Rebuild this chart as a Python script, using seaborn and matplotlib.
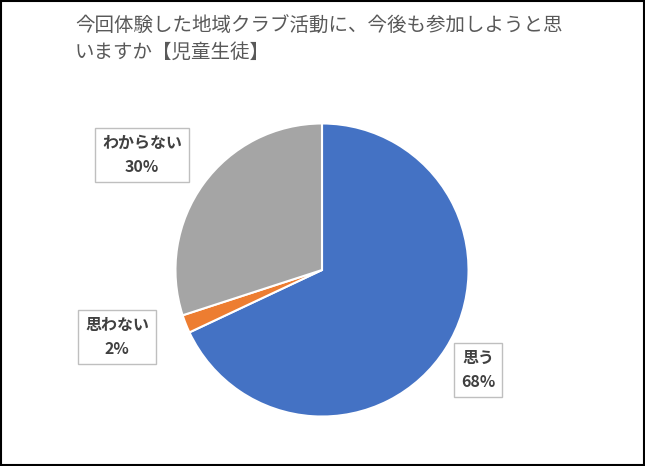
import seaborn as sns
import matplotlib.pyplot as plt
from matplotlib.patches import Rectangle

sns.set_style("white")
plt.rcParams['font.family'] = ['Noto Sans CJK JP', 'DejaVu Sans']

labels = ["思う", "思わない", "わからない"]
values = [68, 2, 30]
colors = ["#4472C4", "#ED7D31", "#A5A5A5"]

fig = plt.figure(figsize=(6.45, 4.66), dpi=100)
fig.patches.append(Rectangle((0.002, 0.002), 0.996, 0.996, transform=fig.transFigure,
                             fill=False, edgecolor="black", linewidth=1.5))

ax = fig.add_axes([(322 - 148) / 645, (196 - 148) / 466, 296 / 645, 296 / 466])
ax.pie(values, colors=colors, startangle=90, counterclock=False,
       wedgeprops=dict(edgecolor="white", linewidth=1.5))
ax.set_xlim(-1.01, 1.01)
ax.set_ylim(-1.01, 1.01)
ax.set_aspect("equal")

fig.text(75 / 645, 1 - 16 / 466, "今回体験した地域クラブ活動に、今後も参加しようと思\nいますか【児童生徒】",
         ha="left", va="top", fontsize=14, color="#595959", linespacing=1.3)

# label boxes: (x center px, y center px)
pos = [(478, 370), (117, 337), (142, 155)]
for (x, y), lab, v in zip(pos, labels, values):
    fig.text(x / 645, 1 - y / 466, f"{lab}\n{v}%", ha="center", va="center",
             fontsize=11.5, fontweight="bold", color="#404040", linespacing=1.6,
             bbox=dict(boxstyle="square,pad=0.45", facecolor="white", edgecolor="#BFBFBF"))

fig.savefig("out.png", dpi=100)
